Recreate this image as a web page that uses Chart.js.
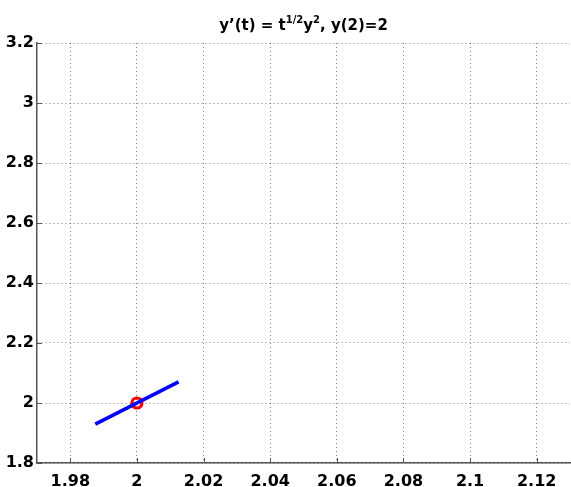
<!DOCTYPE html>
<html>
<head>
<meta charset="utf-8">
<script src="https://cdn.jsdelivr.net/npm/chart.js@4"></script>
<style>
  html, body { margin: 0; padding: 0; background: #fff; }
  #wrap { width: 571px; height: 487px; position: relative; }
</style>
</head>
<body>
<div id="wrap"><canvas id="myChart" width="571" height="487"></canvas></div>
<script>
// data
const tangentT = [1.9875, 2.0125];
const tangentY = [1.9293, 2.0707];
const pointT = [2];
const pointY = [2];
const xTicks = [1.98, 2, 2.02, 2.04, 2.06, 2.08, 2.1, 2.12];
const yTicks = [1.8, 2, 2.2, 2.4, 2.6, 2.8, 3, 3.2];

const FONT = "DejaVu Sans";
const axisColor = "#555";

// MATLAB style title with superscripts
const titlePlugin = {
  id: "mTitle",
  afterDraw(c) {
    const ctx = c.ctx;
    const parts = [
      ["y\u2019(t) = t", false], ["1/2", true], ["y", false], ["2", true], [", y(2)=2", false],
    ];
    const big = `bold 15px "${FONT}"`;
    const small = `bold 10px "${FONT}"`;
    let w = 0;
    parts.forEach(([s, sup]) => { ctx.font = sup ? small : big; w += ctx.measureText(s).width; });
    const area = c.chartArea;
    let x = (area.left + area.right) / 2 - w / 2;
    ctx.save();
    ctx.fillStyle = "#000";
    ctx.textBaseline = "alphabetic";
    parts.forEach(([s, sup]) => {
      ctx.font = sup ? small : big;
      ctx.fillText(s, x, sup ? 23 : 30);
      x += ctx.measureText(s).width;
    });
    ctx.restore();
  }
};

// short tick marks pointing inside the axes
const innerTicks = {
  id: "innerTicks",
  afterDraw(c) {
    const ctx = c.ctx;
    const { x, y } = c.scales;
    const a = c.chartArea;
    ctx.save();
    ctx.strokeStyle = axisColor;
    ctx.lineWidth = 1;
    ctx.beginPath();
    xTicks.forEach((t) => {
      const px = Math.round(x.getPixelForValue(t)) + 0.5;
      ctx.moveTo(px, a.bottom);
      ctx.lineTo(px, a.bottom - 5);
    });
    yTicks.forEach((t) => {
      const py = Math.round(y.getPixelForValue(t)) + 0.5;
      ctx.moveTo(a.left, py);
      ctx.lineTo(a.left + 5, py);
    });
    ctx.stroke();
    ctx.restore();
  }
};

const fmt = (v) => String(Math.round(v * 100) / 100);

new Chart(document.getElementById("myChart"), {
  type: "scatter",
  data: {
    datasets: [
      {
        data: tangentT.map((t, i) => ({ x: t, y: tangentY[i] })),
        showLine: true,
        borderColor: "#0000ff",
        borderWidth: 3.6,
        pointRadius: 0,
      },
      {
        data: pointT.map((t, i) => ({ x: t, y: pointY[i] })),
        showLine: false,
        pointRadius: 5,
        pointBorderWidth: 3.2,
        pointBorderColor: "#ff0000",
        pointBackgroundColor: "rgba(0,0,0,0)",
      },
    ],
  },
  options: {
    responsive: false,
    animation: false,
    layout: { autoPadding: false, padding: { top: 43, right: 1, left: 0, bottom: 0 } },
    plugins: { legend: { display: false }, tooltip: { enabled: false } },
    scales: {
      x: {
        type: "linear",
        min: 1.97,
        max: 2.13,
        afterBuildTicks: (s) => { s.ticks = xTicks.map((v) => ({ value: v })); },
        afterFit: (s) => { s.height = 24; s.paddingLeft = 0; s.paddingRight = 0; },
        ticks: {
          color: "#000",
          font: { family: FONT, size: 16, weight: "bold" },
          padding: 9,
          maxRotation: 0,
          autoSkip: false,
          callback: fmt,
        },
        grid: { color: "rgba(0,0,0,0.5)", drawTicks: false },
        border: { display: true, color: axisColor, width: 1.5, dash: [1, 3] },
      },
      y: {
        type: "linear",
        min: 1.8,
        max: 3.2,
        afterBuildTicks: (s) => { s.ticks = yTicks.map((v) => ({ value: v })); },
        afterFit: (s) => { s.width = 37; s.paddingTop = 0; s.paddingBottom = 0; },
        ticks: {
          color: "#000",
          font: { family: FONT, size: 16, weight: "bold" },
          padding: 3,
          autoSkip: false,
          callback: fmt,
        },
        grid: { color: "rgba(0,0,0,0.5)", drawTicks: false },
        border: { display: true, color: axisColor, width: 1.5, dash: [1, 3] },
      },
    },
  },
  plugins: [titlePlugin, innerTicks],
});
</script>
</body>
</html>
